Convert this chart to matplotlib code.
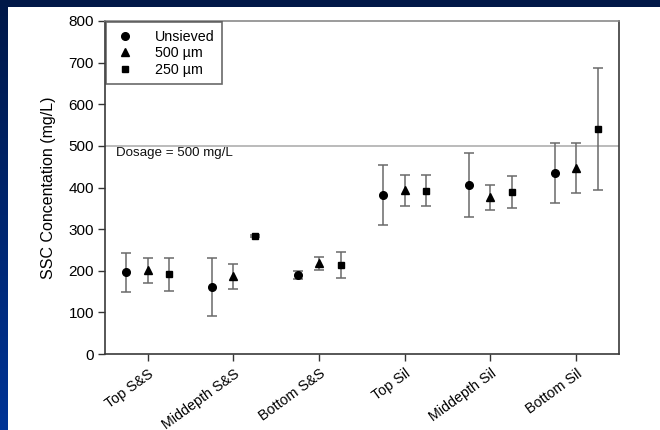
import numpy as np
import matplotlib
matplotlib.use("Agg")
import matplotlib.pyplot as plt
from matplotlib.lines import Line2D

sites = ["Top S&S", "Middepth S&S", "Bottom S&S", "Top Sil", "Middepth Sil", "Bottom Sil"]

unsieved = [196, 161, 190, 382, 406, 435]
unsieved_err = [47, 70, 10, 73, 77, 73]

sieve_500 = [201, 187, 218, 393, 376, 446]
sieve_500_err = [30, 30, 15, 38, 30, 60]

sieve_250 = [191, 283, 214, 392, 389, 540]
sieve_250_err = [40, 3, 32, 37, 38, 146]

dosage = 500

plt.rcParams["font.family"] = ["Liberation Sans", "DejaVu Sans"]

fig = plt.figure(figsize=(6.6, 4.3), dpi=100)
fig.patch.set_facecolor("white")

# slide frame: navy band on top, blue gradient strip on the left
W, H = 660, 430
top = fig.add_axes([0, 1 - 7 / H, 1, 7 / H])
top.set_axis_off()
top.add_patch(plt.Rectangle((0, 0), 1, 1, color="#011848", transform=top.transAxes))
left = fig.add_axes([0, 0, 8 / W, 1])
grad = np.linspace(0, 1, 256)[:, None]
cmap = matplotlib.colors.LinearSegmentedColormap.from_list("side", ["#003496", "#011848"])
left.imshow(grad, aspect="auto", cmap=cmap, origin="lower", extent=[0, 1, 0, 1])
left.set_axis_off()

ax = fig.add_axes([105 / W, 1 - 354 / H, (619 - 105) / W, (354 - 21) / H])

x = np.arange(len(sites))
off = 0.25
ebar = dict(fmt="none", ecolor="#6a6a6a", elinewidth=1.1, capsize=3.4, capthick=1.1)

ax.errorbar(x - off, unsieved, yerr=unsieved_err, **ebar)
ax.errorbar(x, sieve_500, yerr=sieve_500_err, **ebar)
ax.errorbar(x + off, sieve_250, yerr=sieve_250_err, **ebar)
ax.plot(x - off, unsieved, "o", color="black", ms=5.5, zorder=3)
ax.plot(x, sieve_500, "^", color="black", ms=5.5, zorder=3)
ax.plot(x + off, sieve_250, "s", color="black", ms=4.8, zorder=3)

ax.axhline(dosage, color="#a8a8a8", lw=1.1, zorder=1)
ax.text(0.0215, 0.605, "Dosage = 500 mg/L", transform=ax.transAxes, fontsize=9.6,
        color="#111111", va="center", ha="left")

ax.set_xlim(-0.5, 5.5)
ax.set_ylim(0, 800)
ax.set_yticks(range(0, 801, 100))
ax.set_xticks(x)
ax.set_xticklabels(sites, rotation=36, ha="right", rotation_mode="anchor", fontsize=10.3)
ax.tick_params(axis="y", labelsize=11, length=5, width=1, color="#333333", pad=3)
ax.tick_params(axis="x", length=5, width=1, color="#333333", pad=4)
ax.set_ylabel("SSC Concentation (mg/L)", fontsize=11.5, labelpad=9)

for side in ["left", "bottom", "right"]:
    ax.spines[side].set_color("#3a3a3a")
    ax.spines[side].set_linewidth(1.2)
ax.spines["top"].set_color("#8a8a8a")
ax.spines["top"].set_linewidth(1.2)

handles = [
    Line2D([], [], marker="o", ls="none", color="black", ms=5.5),
    Line2D([], [], marker="^", ls="none", color="black", ms=5.5),
    Line2D([], [], marker="s", ls="none", color="black", ms=4.8),
]
leg = ax.legend(handles, ["Unsieved", "500 \u00b5m", "250 \u00b5m"], loc="upper left",
                bbox_to_anchor=(0.0, 1.0), fontsize=10.3, frameon=True, fancybox=False,
                borderaxespad=0.1, handletextpad=1.3, labelspacing=0.2,
                borderpad=0.5, handlelength=1.6)
leg.get_frame().set_edgecolor("#444444")
leg.get_frame().set_linewidth(1.2)

fig.savefig("out.png", dpi=100, facecolor=fig.get_facecolor())
